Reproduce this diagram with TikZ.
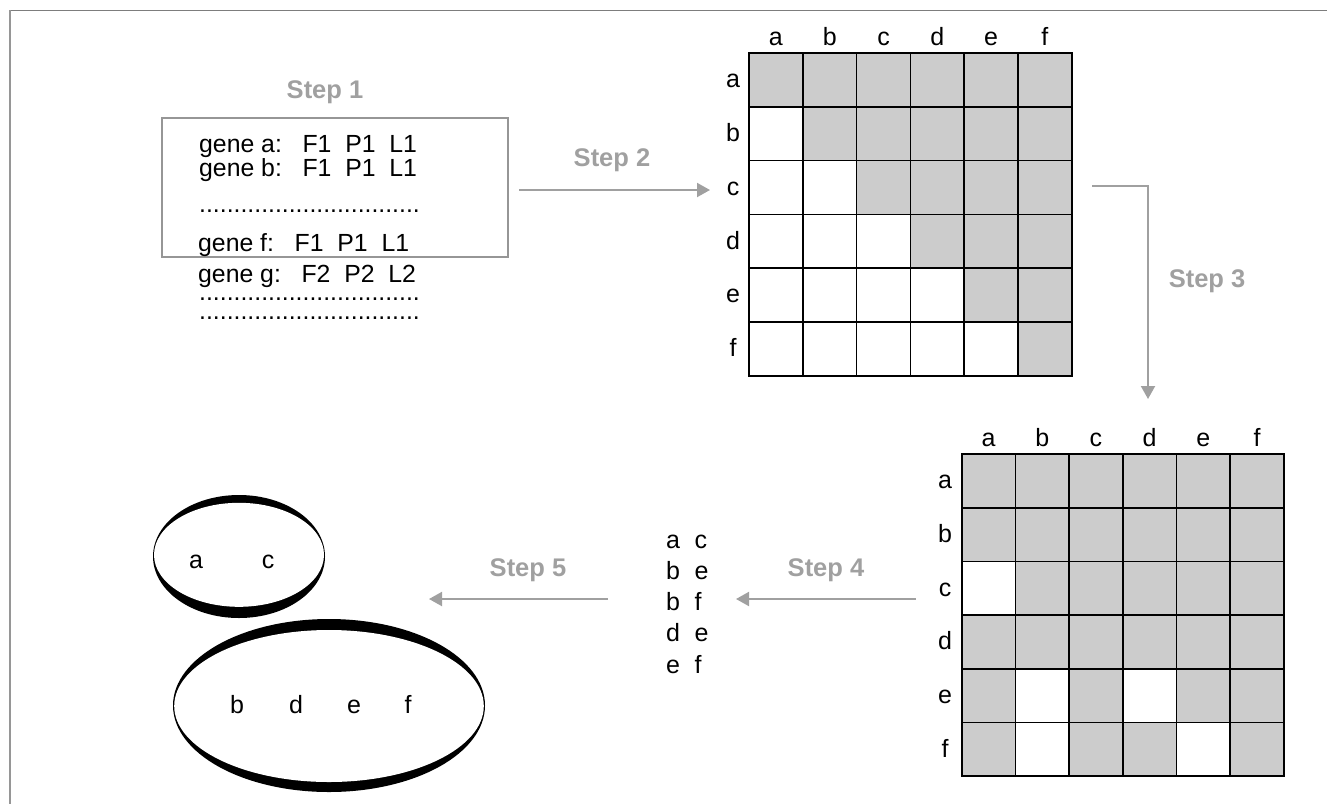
\documentclass[tikz,border=0pt]{standalone}
\usepackage{fontspec}
\setmainfont{Liberation Sans}
\usetikzlibrary{arrows.meta}
\definecolor{stepgray}{RGB}{160,160,160}
\definecolor{cellgray}{RGB}{204,204,204}
\definecolor{framegray}{RGB}{125,125,125}
\definecolor{framegrayb}{RGB}{150,150,150}
\definecolor{boxgray}{RGB}{150,150,150}
\begin{document}
\begin{tikzpicture}[x=1pt,y=-1pt,
  steplabel/.style={font=\fontsize{25.5}{28}\selectfont\bfseries, text=stepgray, anchor=base, inner sep=0},
  txt/.style={font=\fontsize{25}{27}\selectfont, inner sep=0},
  gtxt/.style={font=\fontsize{24.8}{26}\selectfont, inner sep=0, anchor=base west},
  txtl/.style={txt, anchor=base west},
  txtc/.style={txt, anchor=base},
  flow/.style={draw=stepgray, line width=2pt, -{Triangle[length=13pt,width=14pt]}},
  cell/.style={draw=black, line width=1.6pt, minimum size=53.8pt, inner sep=0, rectangle},
  cellb/.style={draw=black, line width=1.6pt, minimum size=53.7pt, inner sep=0, rectangle},
]
\useasboundingbox (0,0) rectangle (1327,804);
% frame
\draw[framegray, line width=1.5pt] (10,10.5) -- (1327,10.5);
\draw[framegrayb, line width=1.5pt] (10,10) -- (10,804);

% Step 1 box
\node[steplabel] (s1) at (325,98.3) {Step 1};
\node[draw=boxgray, line width=1.5pt, minimum width=346pt, minimum height=139pt, inner sep=0] (box) at (335,187.5) {};
\node[gtxt] (ga) at (199,152.7) {gene a:\hspace{0.834em}F1\hspace{0.556em}P1\hspace{0.556em}L1};
\node[gtxt] (gb) at (199,176.5) {gene b:\hspace{0.834em}F1\hspace{0.556em}P1\hspace{0.556em}L1};
\node[gtxt] (d1) at (199,212) {................................};
\node[gtxt] (gf) at (198,251) {gene f:\hspace{0.834em}F1\hspace{0.556em}P1\hspace{0.556em}L1};
\node[gtxt] (gg) at (198,282) {gene g:\hspace{0.834em}F2\hspace{0.556em}P2\hspace{0.556em}L2};
\node[gtxt] (d2) at (199,300) {................................};
\node[gtxt] (d3) at (199,319) {................................};

% Step 2
\node[steplabel] (s2) at (612,166.7) {Step 2};
\coordinate (s2a) at (519,190);
\coordinate (s2b) at (710,190);
\draw[flow] (s2a) -- (s2b);

% Matrix 1
\foreach \r in {1,...,6}{
  \foreach \c in {1,...,6}{
    \pgfmathtruncatemacro{\g}{\c>=\r ? 1 : 0}
    \ifnum\g=1 \def\fc{cellgray}\else\def\fc{white}\fi
    \node[cell, fill=\fc] (A-\r-\c) at ({749+26.9+53.8*(\c-1)}, {53+26.9+53.8*(\r-1)}) {};
  }
}
\foreach \l [count=\i] in {a,b,c,d,e,f}{
  \node[txtc] (AC-\i) at ({749+26.9+53.8*(\i-1)}, 45.7) {\l};
  \node[txtc] (AR-\i) at (733, {53+26.9+53.8*(\i-1)+7.8}) {\l};
}

% Step 3
\node[steplabel] (s3) at (1207,287.7) {Step 3};
\coordinate (s3a) at (1092,186);
\coordinate (s3b) at (1148,399);
\draw[flow] (s3a) -| (s3b);

% Matrix 2
\foreach \r in {1,...,6}{
  \foreach \c in {1,...,6}{
    \pgfmathtruncatemacro{\w}{(\r==3&&\c==1)||(\r==5&&\c==2)||(\r==5&&\c==4)||(\r==6&&\c==2)||(\r==6&&\c==5)}
    \ifnum\w=1 \def\fc{white}\else\def\fc{cellgray}\fi
    \node[cellb, fill=\fc] (B-\r-\c) at ({961.7+26.85+53.7*(\c-1)}, {454+26.85+53.7*(\r-1)}) {};
  }
}
\foreach \l [count=\i] in {a,b,c,d,e,f}{
  \node[txtc] (BC-\i) at ({961.7+26.85+53.7*(\i-1)}, 446.7) {\l};
  \node[txtc] (BR-\i) at (945, {454+26.85+53.7*(\i-1)+7.8}) {\l};
}

% Step 4
\node[steplabel] (s4) at (826,576.7) {Step 4};
\coordinate (s4a) at (916,599);
\coordinate (s4b) at (736,599);
\draw[flow] (s4a) -- (s4b);

% pair list
\node[txtl] (p1) at (666,548.3) {\makebox[28.5pt][l]{a}c};
\node[txtl] (p2) at (666,579.5) {\makebox[28.5pt][l]{b}e};
\node[txtl] (p3) at (666,610.7) {\makebox[28.5pt][l]{b}f};
\node[txtl] (p4) at (666,641.9) {\makebox[28.5pt][l]{d}e};
\node[txtl] (p5) at (666,673.1) {\makebox[28.5pt][l]{e}f};

% Step 5
\node[steplabel] (s5) at (528,576.7) {Step 5};
\coordinate (s5a) at (608,599);
\coordinate (s5b) at (429,599);
\draw[flow] (s5a) -- (s5b);

% clusters (rings thick at top and bottom, thin at the sides)
\fill[black] (239,556.5) ellipse [x radius=86, y radius=61.5];
\fill[white] (239,554.8) ellipse [x radius=85, y radius=52];
\node[txtc] (ca) at (196,568.3) {a};
\node[txtc] (cc) at (268,568.3) {c};

\fill[black] (329,705.5) ellipse [x radius=156, y radius=86.5];
\fill[white] (329,706) ellipse [x radius=154.8, y radius=76];
\node[txtc] (cb) at (237,713) {b};
\node[txtc] (cd) at (296,713) {d};
\node[txtc] (ce) at (354,713) {e};
\node[txtc] (cf) at (408,713) {f};
\end{tikzpicture}
\end{document}
